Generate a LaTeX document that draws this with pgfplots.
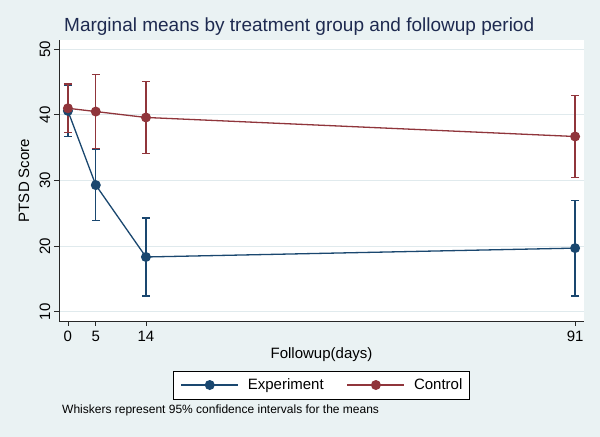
\documentclass[border=0pt]{standalone}
\usepackage{pgfplots}
\pgfplotsset{compat=1.18}
\usepackage{fontspec}
\setmainfont{Liberation Sans}
\definecolor{bgcol}{RGB}{234,242,243}
\definecolor{gridcol}{RGB}{224,234,237}
\definecolor{stnavy}{RGB}{26,71,111}
\definecolor{stmaroon}{RGB}{144,53,59}
\definecolor{titlecol}{RGB}{30,42,80}
\definecolor{axcol}{RGB}{40,40,40}
\begin{document}
\begin{tikzpicture}[x=1bp,y=1bp]
\fill[bgcol] (0,0) rectangle (600,437);
\node[anchor=base west, inner sep=0pt, text=titlecol, font=\fontsize{19bp}{22bp}\selectfont] at (64,405.3) {Marginal means by treatment group and followup period};
\node[anchor=base west, inner sep=0pt, font=\fontsize{12bp}{14bp}\selectfont] at (62,23) {Whiskers represent 95\% confidence intervals for the means};
\begin{axis}[
  at={(59bp,116bp)}, anchor=south west,
  scale only axis, width=525bp, height=281bp,
  xmin=-1.6, xmax=92.6, ymin=8.6, ymax=51.4,
  axis x line*=bottom, axis y line*=left,
  axis line style={axcol, line width=0.9bp, -},
  axis background/.style={fill=white},
  xtick={0,5,14,91}, ytick={10,20,30,40,50},
  tick align=outside, major tick length=5bp,
  tick style={axcol, line width=0.8bp},
  ymajorgrids, grid style={gridcol, line width=0.8bp},
  /pgf/number format/assume math mode=true,
  tick label style={font=\fontsize{15bp}{18bp}\selectfont},
  yticklabel style={rotate=90, anchor=south, inner sep=3.5bp},
  xticklabel style={anchor=north, inner sep=4.5bp},
  xlabel={Followup(days)}, ylabel={PTSD Score},
  every axis x label/.style={at={(axis description cs:0.5,-0.121)}, anchor=center, font=\fontsize{15bp}{18bp}\selectfont},
  every axis y label/.style={at={(axis description cs:-0.0667,0.5)}, rotate=90, anchor=center, font=\fontsize{15bp}{18bp}\selectfont},
  legend columns=2,
  legend style={at={(axis description cs:0.5,-0.2278)}, anchor=center,
    draw=black, fill=white, line width=0.8bp,
    inner xsep=7bp, inner ysep=7bp,
    font=\fontsize{15bp}{18bp}\selectfont,
    nodes={inner sep=0pt, text height=11bp, text depth=3bp},
    /tikz/every odd column/.append style={column sep=9bp},
    /tikz/every even column/.append style={column sep=23bp}},
  legend image code/.code={\draw[mark repeat=2,mark phase=2,#1] plot coordinates {(0bp,0bp) (28.5bp,0bp) (57bp,0bp)};},
  error bars/y dir=both, error bars/y explicit,
  error bars/error mark=|,
  error bars/error bar style={line width=1.3bp, solid},
  error bars/error mark options={mark size=4bp, line width=1.3bp},
]
\addplot[stnavy, line width=1.3bp, mark=*, mark size=4.3bp, mark options={fill=stnavy, solid}]
  coordinates {(0,40.6) +- (0,3.9) (5,29.3) +- (0,5.4) (14,18.35) +- (0,5.95) (91,19.7) +- (0,7.3)};
\addlegendentry{Experiment}
\addplot[stmaroon, line width=1.3bp, mark=*, mark size=4.3bp, mark options={fill=stmaroon, solid}]
  coordinates {(0,41.0) +- (0,3.7) (5,40.5) +- (0,5.6) (14,39.6) +- (0,5.5) (91,36.7) +- (0,6.2)};
\addlegendentry{Control}
\end{axis}
\end{tikzpicture}
\end{document}
